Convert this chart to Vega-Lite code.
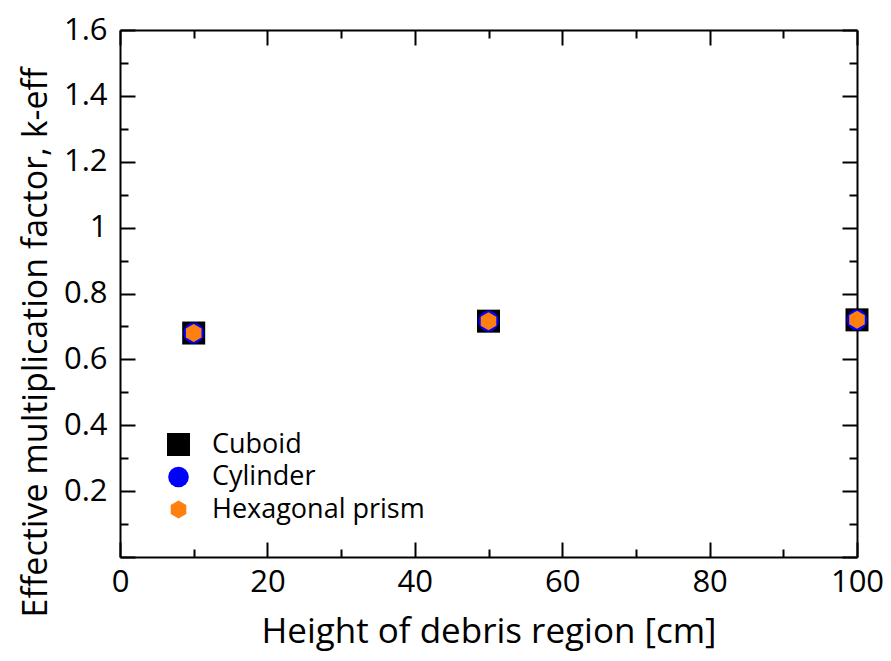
{
  "$schema": "https://vega.github.io/schema/vega-lite/v6.json",
  "autosize": {"type": "none"},
  "width": 737,
  "height": 527,
  "padding": {"left": 120, "top": 30, "right": 34, "bottom": 104},
  "background": "white",
  "config": {
    "view": {"stroke": null},
    "font": "Open Sans",
    "axis": {
      "grid": false,
      "domainColor": "black",
      "domainWidth": 2,
      "tickColor": "black",
      "tickWidth": 2,
      "labelColor": "black",
      "titleColor": "black",
      "labelFont": "Open Sans",
      "titleFont": "Open Sans",
      "labelFontSize": 31,
      "titleFontSize": 34,
      "titleFontWeight": "normal"
    }
  },
  "data": {
    "values": [
      {"h": 10, "k": 0.68, "geom": "Cuboid"},
      {"h": 50, "k": 0.716, "geom": "Cuboid"},
      {"h": 100, "k": 0.72, "geom": "Cuboid"},
      {"h": 10, "k": 0.68, "geom": "Cylinder"},
      {"h": 50, "k": 0.716, "geom": "Cylinder"},
      {"h": 100, "k": 0.72, "geom": "Cylinder"},
      {"h": 10, "k": 0.68, "geom": "Hexagonal prism"},
      {"h": 50, "k": 0.716, "geom": "Hexagonal prism"},
      {"h": 100, "k": 0.72, "geom": "Hexagonal prism"}
    ]
  },
  "resolve": {"axis": {"x": "independent", "y": "independent"}},
  "layer": [
    {
      "mark": {"type": "point", "filled": true, "opacity": 1, "clip": false},
      "encoding": {
        "x": {
          "field": "h", "type": "quantitative",
          "scale": {"domain": [0, 100], "nice": false},
          "axis": {
            "title": "Height of debris region [cm]",
            "titleFontSize": 35,
            "values": [0, 10, 20, 30, 40, 50, 60, 70, 80, 90, 100],
            "labelExpr": "datum.value % 20 === 0 ? datum.label : ''",
            "tickSize": {"condition": {"test": "datum.value % 20 === 0", "value": -15}, "value": -8},
            "labelPadding": 25,
            "titlePadding": 17,
            "labelFlush": false
          }
        },
        "y": {
          "field": "k", "type": "quantitative",
          "scale": {"domain": [0, 1.6], "nice": false},
          "axis": {
            "title": "Effective multiplication factor, k-eff",
            "format": ".1~f",
            "values": [0, 0.1, 0.2, 0.3, 0.4, 0.5, 0.6, 0.7, 0.8, 0.9, 1, 1.1, 1.2, 1.3, 1.4, 1.5, 1.6],
            "labelExpr": "(round(datum.value * 10) % 2 === 0 && datum.value > 0) ? datum.label : ''",
            "tickSize": {"condition": {"test": "round(datum.value * 10) % 2 === 0", "value": -15}, "value": -8},
            "labelPadding": 28,
            "titlePadding": 10,
            "titleY": 312,
            "labelFlush": false
          }
        },
        "color": {
          "field": "geom", "type": "nominal",
          "scale": {"domain": ["Cuboid", "Cylinder", "Hexagonal prism"], "range": ["#000000", "#0000ff", "#ff800e"]},
          "legend": {
            "title": null,
            "orient": "none",
            "legendX": 45,
            "legendY": 401,
            "padding": 0,
            "symbolSize": 490,
            "symbolStrokeWidth": 0,
            "labelFont": "Open Sans",
            "labelFontSize": 27,
            "labelLimit": 400,
            "labelColor": "black",
            "labelOffset": 20,
            "rowPadding": 4.5
          }
        },
        "shape": {
          "field": "geom", "type": "nominal",
          "scale": {"domain": ["Cuboid", "Cylinder", "Hexagonal prism"], "range": ["square", "circle", "M0,-1L0.866,-0.5L0.866,0.5L0,1L-0.866,0.5L-0.866,-0.5Z"]}
        },
        "size": {
          "field": "geom", "type": "nominal",
          "scale": {"domain": ["Cuboid", "Cylinder", "Hexagonal prism"], "range": [529, 324, 520]},
          "legend": null
        }
      }
    },
    {
      "mark": {"type": "point", "opacity": 0},
      "encoding": {
        "x": {
          "field": "h", "type": "quantitative",
          "scale": {"domain": [0, 100], "nice": false},
          "axis": {
            "orient": "top", "title": null, "labels": false,
            "values": [0, 10, 20, 30, 40, 50, 60, 70, 80, 90, 100],
            "tickSize": {"condition": {"test": "datum.value % 20 === 0", "value": -15}, "value": -8}
          }
        },
        "y": {
          "field": "k", "type": "quantitative",
          "scale": {"domain": [0, 1.6], "nice": false},
          "axis": {
            "orient": "right", "title": null, "labels": false,
            "values": [0, 0.1, 0.2, 0.3, 0.4, 0.5, 0.6, 0.7, 0.8, 0.9, 1, 1.1, 1.2, 1.3, 1.4, 1.5, 1.6],
            "tickSize": {"condition": {"test": "round(datum.value * 10) % 2 === 0", "value": -15}, "value": -8}
          }
        }
      }
    }
  ]
}
